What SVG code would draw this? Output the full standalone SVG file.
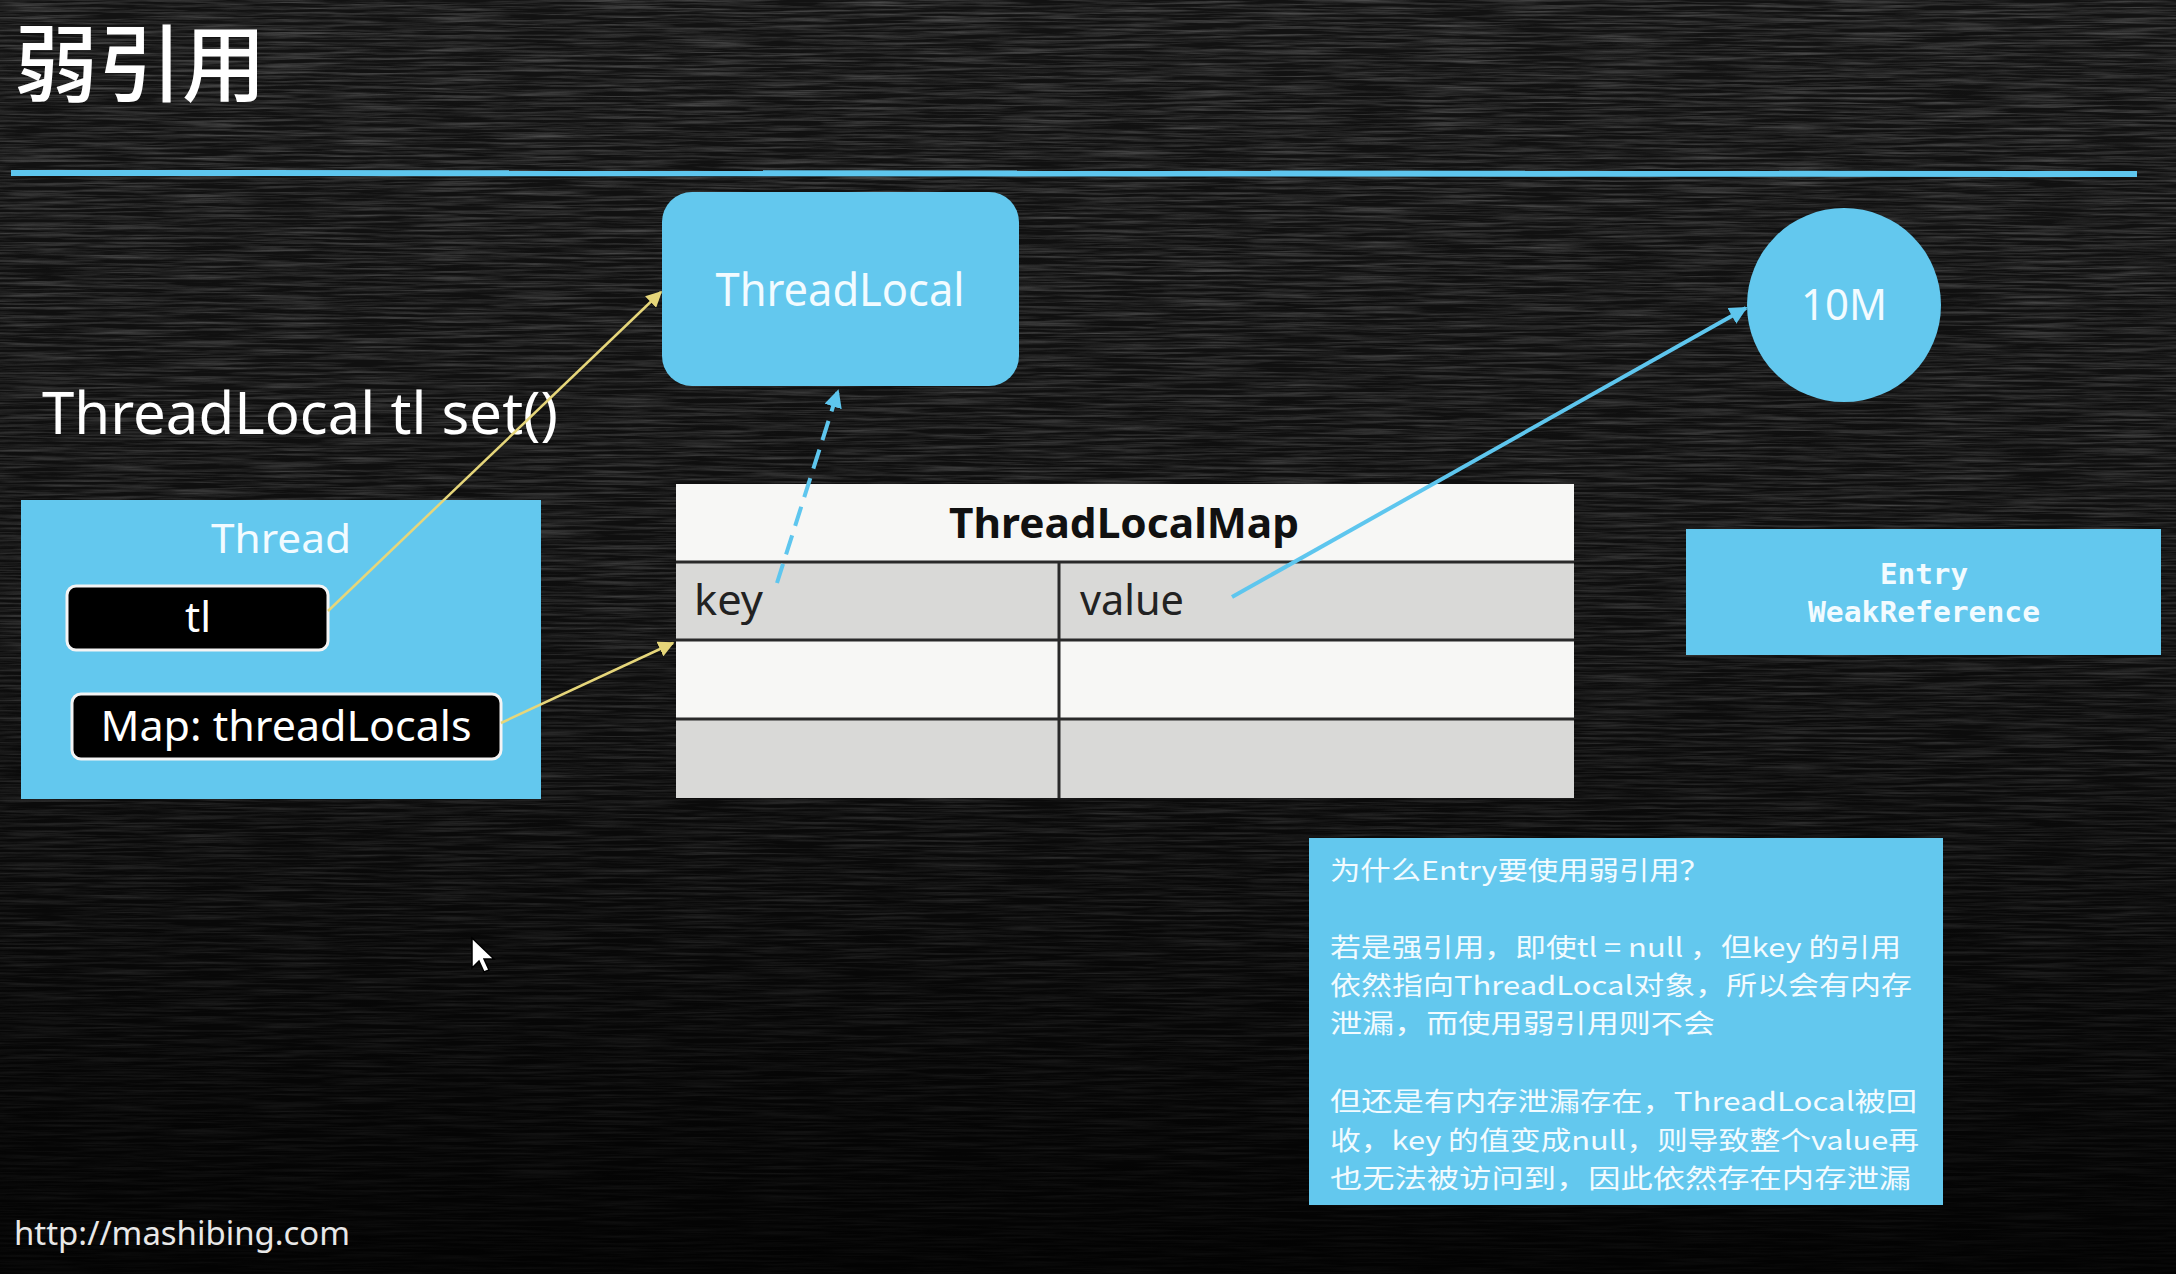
<svg xmlns="http://www.w3.org/2000/svg" width="2176" height="1274" viewBox="0 0 2176 1274">
<defs>
  <style>
    .sans{font-family:"Noto Sans","Liberation Sans",sans-serif;}
    .cjk{font-family:"Noto Sans CJK SC","Noto Sans",sans-serif;}
    .mono{font-family:"DejaVu Sans Mono","Liberation Mono",monospace;font-weight:bold;}
    .wt{fill:#f2fbff;}
    .blue{fill:#63c8ee;}
    .blk{fill:#000;stroke:#f4f4f4;stroke-width:3;}
    .grid{stroke:#2a2a2a;stroke-width:3;fill:none;}
    .ylw{stroke:#e6d67a;stroke-width:2.5;fill:none;}
    .bl{stroke:#5ec6ee;stroke-width:4;fill:none;}
  </style>
  <filter id="chalk" x="0" y="0" width="100%" height="100%">
    <feTurbulence type="fractalNoise" baseFrequency="0.012 0.4" numOctaves="4" seed="7"/>
    <feColorMatrix type="matrix" values="0 0 0 0 1  0 0 0 0 1  0 0 0 0 1  1.1 0 0 0 -0.42"/>
  </filter>
  <linearGradient id="fade" x1="0" y1="0" x2="0" y2="1">
    <stop offset="0" stop-color="#000" stop-opacity="0"/>
    <stop offset="0.45" stop-color="#000" stop-opacity="0.2"/>
    <stop offset="1" stop-color="#000" stop-opacity="0.85"/>
  </linearGradient>
  <marker id="ay" viewBox="0 0 10 10" refX="9" refY="5" markerWidth="16" markerHeight="16" markerUnits="userSpaceOnUse" orient="auto">
    <path d="M0,0 L10,5 L0,10 z" fill="#e6d67a"/>
  </marker>
  <marker id="ab" viewBox="0 0 10 10" refX="9" refY="5" markerWidth="18" markerHeight="18" markerUnits="userSpaceOnUse" orient="auto">
    <path d="M0,0 L10,5 L0,10 z" fill="#5ec6ee"/>
  </marker>
</defs>

<g id="background">
  <rect x="0" y="0" width="2176" height="1274" fill="#121212"/>
  <rect x="0" y="0" width="2176" height="1274" filter="url(#chalk)" opacity="0.45"/>
  <rect x="0" y="0" width="2176" height="1274" fill="url(#fade)"/>
  <line x1="11" y1="173" x2="2137" y2="174" stroke="#5ec6ee" stroke-width="6"/>
</g>

<g id="title">
  <text x="14" y="95" class="cjk" font-size="84" font-weight="500" fill="#ffffff">弱引用</text>
</g>

<g id="caption">
  <text x="42" y="434" class="sans" font-size="58" fill="#ffffff" textLength="516" lengthAdjust="spacingAndGlyphs">ThreadLocal tl set()</text>
</g>

<g id="threadlocal">
  <rect x="662" y="192" width="357" height="194" rx="30" class="blue"/>
  <text x="840" y="306" class="sans wt" font-size="46" text-anchor="middle" textLength="249" lengthAdjust="spacingAndGlyphs">ThreadLocal</text>
</g>

<g id="tenM">
  <circle cx="1844" cy="305" r="97" class="blue"/>
  <text x="1844" y="320" class="sans wt" font-size="44" text-anchor="middle" textLength="86" lengthAdjust="spacingAndGlyphs">10M</text>
</g>

<g id="thread">
  <rect x="21" y="500" width="520" height="299" class="blue"/>
  <text x="281" y="553" class="sans wt" font-size="40" text-anchor="middle" textLength="140" lengthAdjust="spacingAndGlyphs">Thread</text>
  <g id="tl">
    <rect x="67" y="586" width="261" height="64" rx="9" class="blk"/>
    <text x="198" y="632" class="sans" font-size="42" fill="#ffffff" text-anchor="middle">tl</text>
  </g>
  <g id="map">
    <rect x="72" y="694" width="429" height="65" rx="9" class="blk"/>
    <text x="286" y="741" class="sans" font-size="41" fill="#ffffff" text-anchor="middle" textLength="371" lengthAdjust="spacingAndGlyphs">Map: threadLocals</text>
  </g>
</g>

<g id="threadlocalmap">
  <rect x="676" y="484" width="898" height="78" fill="#f7f7f5"/>
  <rect x="676" y="562" width="898" height="78" fill="#d9d9d7"/>
  <rect x="676" y="640" width="898" height="79" fill="#f7f7f5"/>
  <rect x="676" y="719" width="898" height="79" fill="#d9d9d7"/>
  <line x1="676" y1="562" x2="1574" y2="562" class="grid"/>
  <line x1="676" y1="640" x2="1574" y2="640" class="grid"/>
  <line x1="676" y1="719" x2="1574" y2="719" class="grid"/>
  <line x1="1059" y1="562" x2="1059" y2="798" class="grid"/>
  <text x="1124" y="538" class="sans" font-size="42" font-weight="bold" fill="#111" text-anchor="middle" textLength="350" lengthAdjust="spacingAndGlyphs">ThreadLocalMap</text>
  <text x="694" y="615" class="sans" font-size="42" fill="#222" textLength="69" lengthAdjust="spacingAndGlyphs">key</text>
  <text x="1080" y="615" class="sans" font-size="42" fill="#222" textLength="104" lengthAdjust="spacingAndGlyphs">value</text>
</g>

<g id="entry">
  <rect x="1686" y="529" width="475" height="126" class="blue"/>
  <text x="1924" y="584" class="mono wt" font-size="29" text-anchor="middle" textLength="88" lengthAdjust="spacingAndGlyphs">Entry</text>
  <text x="1924" y="622" class="mono wt" font-size="29" text-anchor="middle" textLength="232" lengthAdjust="spacingAndGlyphs">WeakReference</text>
</g>

<g id="note">
  <rect x="1309" y="838" width="634" height="367" class="blue"/>
  <g class="cjk wt" font-size="26">
    <text x="1330" y="880" textLength="380" lengthAdjust="spacingAndGlyphs">为什么Entry要使用弱引用？</text>
    <text x="1330" y="957" textLength="571" lengthAdjust="spacingAndGlyphs">若是强引用，即使tl = null ，但key 的引用</text>
    <text x="1330" y="995" textLength="582" lengthAdjust="spacingAndGlyphs">依然指向ThreadLocal对象，所以会有内存</text>
    <text x="1330" y="1033" textLength="385" lengthAdjust="spacingAndGlyphs">泄漏，而使用弱引用则不会</text>
    <text x="1330" y="1111" textLength="587" lengthAdjust="spacingAndGlyphs">但还是有内存泄漏存在，ThreadLocal被回</text>
    <text x="1330" y="1150" textLength="589" lengthAdjust="spacingAndGlyphs">收，key 的值变成null，则导致整个value再</text>
    <text x="1330" y="1188" textLength="581" lengthAdjust="spacingAndGlyphs">也无法被访问到，因此依然存在内存泄漏</text>
  </g>
</g>

<g id="footer">
  <text x="14" y="1245" class="sans" font-size="32" fill="#e8e8e8" textLength="336" lengthAdjust="spacingAndGlyphs">http://mashibing.com</text>
</g>

<g id="cursor">
  <path d="M472,938 L472,968 L479,961 L484,972 L489,970 L484,959 L494,959 Z" fill="#ffffff" stroke="#000" stroke-width="1.5"/>
</g>

<g id="connectors">
  <line x1="328" y1="611" x2="661" y2="292" class="ylw" marker-end="url(#ay)"/>
  <line x1="501" y1="723" x2="673" y2="643" class="ylw" marker-end="url(#ay)"/>
  <line x1="777" y1="583" x2="838" y2="391" class="bl" stroke-dasharray="20 10" marker-end="url(#ab)"/>
  <line x1="1232" y1="597" x2="1746" y2="308" class="bl" marker-end="url(#ab)"/>
</g>
</svg>
